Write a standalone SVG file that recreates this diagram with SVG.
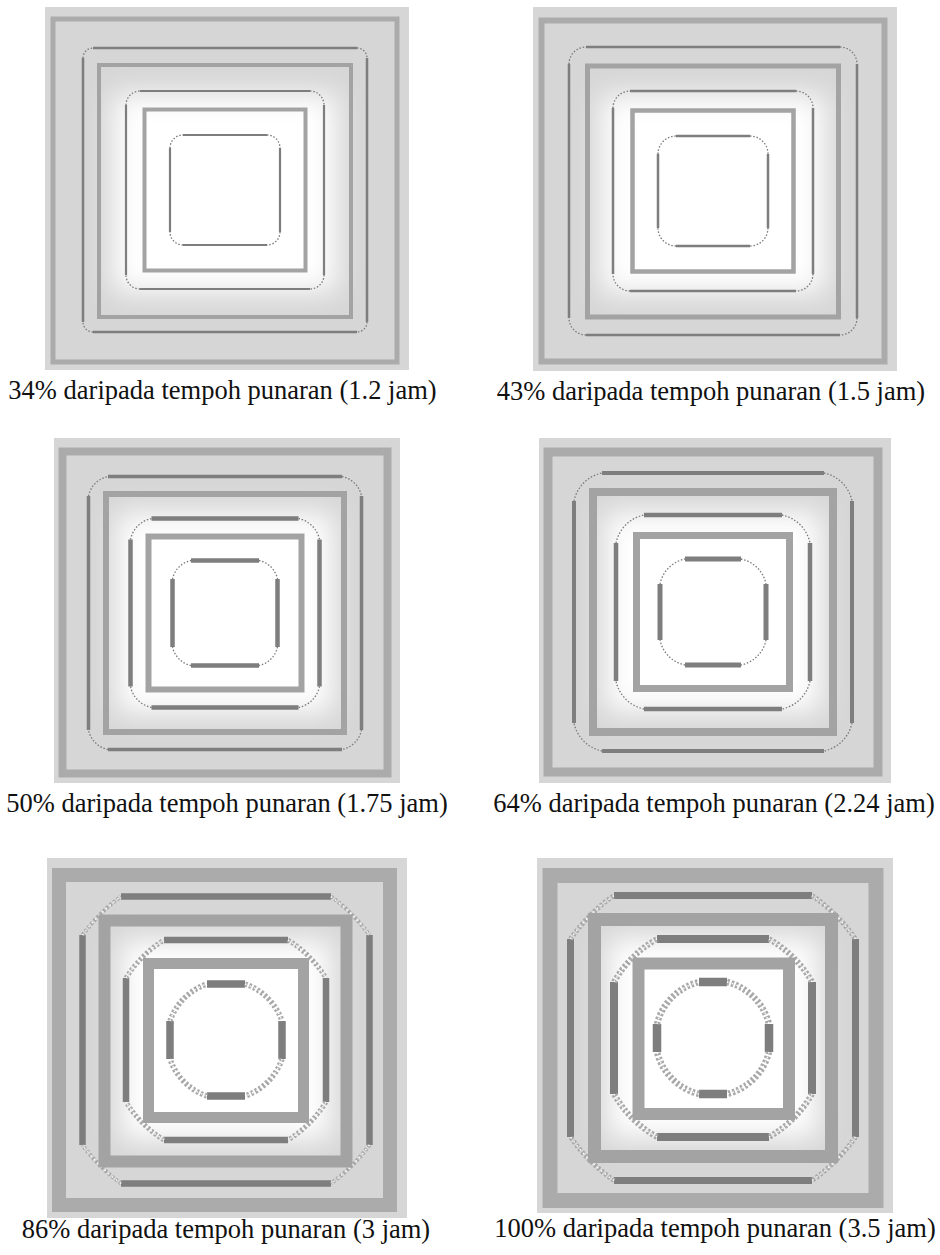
<svg xmlns="http://www.w3.org/2000/svg" width="940" height="1255" viewBox="0 0 940 1255">
<defs>
<filter id="soft" x="-40%" y="-40%" width="180%" height="180%"><feGaussianBlur stdDeviation="14"/></filter>
<style>
.bg{fill:#d6d6d6}
.glow{fill:#ffffff;filter:url(#soft)}
.frame{fill:none;stroke:#ababab}
.sq{fill:none;stroke:#a3a3a3}
.bar{fill:none;stroke:#7e7e7e;stroke-linecap:butt}
.cor{fill:none;stroke:#7a7a7a;stroke-width:1.3;stroke-dasharray:1.5 1.8}
.band{fill:none;stroke:#a9a9a9;stroke-dasharray:2.5 2}
.fleck{fill:none;stroke:#ffffff;stroke-width:1.4;stroke-dasharray:1.5 3.5}
.cap{font-family:"Liberation Serif","Times New Roman",serif;font-size:26.5px;fill:#111111;text-anchor:middle}
</style>
</defs>
<rect width="940" height="1255" fill="#ffffff"/>

<g id="panel-1" transform="translate(225,190)">
<rect class="bg" x="-180" y="-183" width="364" height="363"/>
<rect class="glow" x="-112" y="-96" width="224" height="198"/>
<rect class="frame" x="-172" y="-171" width="344" height="343" stroke-width="5"/>
<path class="bar" stroke-width="2.5" d="M-132,-142H132M142,-132V132M132,142H-132M-142,132V-132"/>
<path class="cor" d="M132,-142A10 10 0 0 1 142,-132M142,132A10 10 0 0 1 132,142M-132,142A10 10 0 0 1 -142,132M-142,-132A10 10 0 0 1 -132,-142"/>
<rect class="sq" x="-126" y="-125" width="252" height="252" stroke-width="4"/>
<path class="bar" stroke-width="2.2" d="M-85,-99H85M99,-85V85M85,99H-85M-99,85V-85"/>
<path class="cor" d="M85,-99A14 14 0 0 1 99,-85M99,85A14 14 0 0 1 85,99M-85,99A14 14 0 0 1 -99,85M-99,-85A14 14 0 0 1 -85,-99"/>
<rect class="sq" x="-80.5" y="-80.5" width="161" height="161" stroke-width="4"/>
<path class="bar" stroke-width="2.2" d="M-42,-55H42M55,-42V42M42,55H-42M-55,42V-42"/>
<path class="cor" d="M42,-55A13 13 0 0 1 55,-42M55,42A13 13 0 0 1 42,55M-42,55A13 13 0 0 1 -55,42M-55,-42A13 13 0 0 1 -42,-55"/>
<text class="cap" x="-2.5" y="209">34% daripada tempoh punaran (1.2 jam)</text>
</g>

<g id="panel-2" transform="translate(713,191)">
<rect class="bg" x="-180" y="-184" width="364" height="364"/>
<rect class="glow" x="-112" y="-96" width="224" height="198"/>
<rect class="frame" x="-171.5" y="-170.5" width="343" height="341" stroke-width="6"/>
<path class="bar" stroke-width="2.5" d="M-127,-144H127M144,-127V127M127,144H-127M-144,127V-127"/>
<path class="cor" d="M127,-144A17 17 0 0 1 144,-127M144,127A17 17 0 0 1 127,144M-127,144A17 17 0 0 1 -144,127M-144,-127A17 17 0 0 1 -127,-144"/>
<rect class="sq" x="-125.5" y="-125" width="251" height="251" stroke-width="5"/>
<path class="bar" stroke-width="2.5" d="M-83,-100H83M100,-83V83M83,100H-83M-100,83V-83"/>
<path class="cor" d="M83,-100A17 17 0 0 1 100,-83M100,83A17 17 0 0 1 83,100M-83,100A17 17 0 0 1 -100,83M-100,-83A17 17 0 0 1 -83,-100"/>
<rect class="sq" x="-80.5" y="-80.5" width="161" height="161" stroke-width="4.5"/>
<path class="bar" stroke-width="2.5" d="M-37,-55H37M55,-37V37M37,55H-37M-55,37V-37"/>
<path class="cor" d="M37,-55A18 18 0 0 1 55,-37M55,37A18 18 0 0 1 37,55M-37,55A18 18 0 0 1 -55,37M-55,-37A18 18 0 0 1 -37,-55"/>
<text class="cap" x="-2" y="209">43% daripada tempoh punaran (1.5 jam)</text>
</g>

<g id="panel-3" transform="translate(225,613)">
<rect class="bg" x="-171" y="-175" width="346" height="345"/>
<rect class="glow" x="-108" y="-100" width="216" height="200"/>
<rect class="frame" x="-162.5" y="-161.5" width="325" height="322" stroke-width="8"/>
<path class="bar" stroke-width="3.5" d="M-117,-136.5H117M136.5,-117V117M117,136.5H-117M-136.5,117V-117"/>
<path class="cor" stroke-width="1.5" d="M117,-136.5A25 25 0 0 1 136.5,-117M136.5,117A25 25 0 0 1 117,136.5M-117,136.5A25 25 0 0 1 -136.5,117M-136.5,-117A25 25 0 0 1 -117,-136.5"/>
<rect class="sq" x="-119" y="-119" width="238" height="238" stroke-width="6"/>
<path class="bar" stroke-width="4.5" d="M-73.5,-94.5H73.5M94.5,-73.5V73.5M73.5,94.5H-73.5M-94.5,73.5V-73.5"/>
<path class="cor" stroke-width="1.5" d="M73.5,-94.5A27 27 0 0 1 94.5,-73.5M94.5,73.5A27 27 0 0 1 73.5,94.5M-73.5,94.5A27 27 0 0 1 -94.5,73.5M-94.5,-73.5A27 27 0 0 1 -73.5,-94.5"/>
<rect class="sq" x="-76.5" y="-76.5" width="153" height="153" stroke-width="6"/>
<path class="bar" stroke-width="4.5" d="M-34,-52.5H34M52.5,-34V34M34,52.5H-34M-52.5,34V-34"/>
<path class="cor" stroke-width="1.5" d="M34,-52.5A24 24 0 0 1 52.5,-34M52.5,34A24 24 0 0 1 34,52.5M-34,52.5A24 24 0 0 1 -52.5,34M-52.5,-34A24 24 0 0 1 -34,-52.5"/>
<text class="cap" x="2" y="199">50% daripada tempoh punaran (1.75 jam)</text>
</g>

<g id="panel-4" transform="translate(713,612)">
<rect class="bg" x="-174" y="-174" width="352" height="345"/>
<rect class="glow" x="-108" y="-100" width="216" height="200"/>
<rect class="frame" x="-165" y="-160" width="330" height="320" stroke-width="9"/>
<path class="bar" stroke-width="4" d="M-111,-139H111M139,-111V111M111,139H-111M-139,111V-111"/>
<path class="cor" stroke-width="1.6" d="M111,-139A36 36 0 0 1 139,-111M139,111A36 36 0 0 1 111,139M-111,139A36 36 0 0 1 -139,111M-139,-111A36 36 0 0 1 -111,-139"/>
<rect class="sq" x="-120" y="-120" width="240" height="240" stroke-width="8"/>
<path class="bar" stroke-width="4.5" d="M-69,-97H69M97,-69V69M69,97H-69M-97,69V-69"/>
<path class="cor" stroke-width="1.8" d="M69,-97A36 36 0 0 1 97,-69M97,69A36 36 0 0 1 69,97M-69,97A36 36 0 0 1 -97,69M-97,-69A36 36 0 0 1 -69,-97"/>
<rect class="sq" x="-76.5" y="-76.5" width="153" height="153" stroke-width="7"/>
<path class="bar" stroke-width="5" d="M-28,-53H28M53,-28V28M28,53H-28M-53,28V-28"/>
<path class="cor" stroke-width="1.8" d="M28,-53A32 32 0 0 1 53,-28M53,28A32 32 0 0 1 28,53M-28,53A32 32 0 0 1 -53,28M-53,-28A32 32 0 0 1 -28,-53"/>
<text class="cap" x="1" y="200">64% daripada tempoh punaran (2.24 jam)</text>
</g>

<g id="panel-5" transform="translate(226,1040)">
<rect class="bg" x="-179" y="-182" width="360" height="360"/>
<rect class="glow" x="-105" y="-100" width="210" height="200"/>
<rect class="frame" x="-167" y="-165" width="331" height="330" stroke-width="14"/>
<path class="bar" stroke-width="6.5" d="M-105,-143.5H105M143.5,-105V105M105,143.5H-105M-143.5,105V-105"/>
<path class="band" stroke-width="4" d="M105,-143.5A177.8 177.8 0 0 1 143.5,-105M143.5,105A177.8 177.8 0 0 1 105,143.5M-105,143.5A177.8 177.8 0 0 1 -143.5,105M-143.5,-105A177.8 177.8 0 0 1 -105,-143.5"/>
<path class="fleck" d="M105,-143.5A177.8 177.8 0 0 1 143.5,-105M143.5,105A177.8 177.8 0 0 1 105,143.5M-105,143.5A177.8 177.8 0 0 1 -143.5,105M-143.5,-105A177.8 177.8 0 0 1 -105,-143.5"/>
<rect class="sq" x="-121.5" y="-119.5" width="242" height="241" stroke-width="12"/>
<path class="bar" stroke-width="6.5" d="M-62,-100H62M100,-62V62M62,100H-62M-100,62V-62"/>
<path class="band" stroke-width="5" d="M62,-100A117.7 117.7 0 0 1 100,-62M100,62A117.7 117.7 0 0 1 62,100M-62,100A117.7 117.7 0 0 1 -100,62M-100,-62A117.7 117.7 0 0 1 -62,-100"/>
<path class="fleck" d="M62,-100A117.7 117.7 0 0 1 100,-62M100,62A117.7 117.7 0 0 1 62,100M-62,100A117.7 117.7 0 0 1 -100,62M-100,-62A117.7 117.7 0 0 1 -62,-100"/>
<rect class="sq" x="-77.5" y="-76.5" width="155" height="154" stroke-width="11"/>
<path class="bar" stroke-width="7.5" d="M-19,-56H19M56,-19V19M19,56H-19M-56,19V-19"/>
<path class="band" stroke-width="5.5" d="M19,-56A59.1 59.1 0 0 1 56,-19M56,19A59.1 59.1 0 0 1 19,56M-19,56A59.1 59.1 0 0 1 -56,19M-56,-19A59.1 59.1 0 0 1 -19,-56"/>
<path class="fleck" d="M19,-56A59.1 59.1 0 0 1 56,-19M56,19A59.1 59.1 0 0 1 19,56M-19,56A59.1 59.1 0 0 1 -56,19M-56,-19A59.1 59.1 0 0 1 -19,-56"/>
<text class="cap" x="0" y="198">86% daripada tempoh punaran (3 jam)</text>
</g>

<g id="panel-6" transform="translate(713,1038)">
<rect class="bg" x="-176" y="-180" width="356" height="355"/>
<rect class="glow" x="-105" y="-100" width="210" height="200"/>
<rect class="frame" x="-163" y="-162.5" width="326" height="325" stroke-width="15"/>
<path class="bar" stroke-width="7" d="M-99,-142.5H99M142.5,-99V99M99,142.5H-99M-142.5,99V-99"/>
<path class="band" stroke-width="5" d="M99,-142.5A173.5 173.5 0 0 1 142.5,-99M142.5,99A173.5 173.5 0 0 1 99,142.5M-99,142.5A173.5 173.5 0 0 1 -142.5,99M-142.5,-99A173.5 173.5 0 0 1 -99,-142.5"/>
<path class="fleck" d="M99,-142.5A173.5 173.5 0 0 1 142.5,-99M142.5,99A173.5 173.5 0 0 1 99,142.5M-99,142.5A173.5 173.5 0 0 1 -142.5,99M-142.5,-99A173.5 173.5 0 0 1 -99,-142.5"/>
<rect class="sq" x="-118.5" y="-118.5" width="237" height="237" stroke-width="13"/>
<path class="bar" stroke-width="8" d="M-56,-99H56M99,-56V56M56,99H-56M-99,56V-56"/>
<path class="band" stroke-width="6" d="M56,-99A113.7 113.7 0 0 1 99,-56M99,56A113.7 113.7 0 0 1 56,99M-56,99A113.7 113.7 0 0 1 -99,56M-99,-56A113.7 113.7 0 0 1 -56,-99"/>
<path class="fleck" d="M56,-99A113.7 113.7 0 0 1 99,-56M99,56A113.7 113.7 0 0 1 56,99M-56,99A113.7 113.7 0 0 1 -99,56M-99,-56A113.7 113.7 0 0 1 -56,-99"/>
<rect class="sq" x="-74.5" y="-74.5" width="150.5" height="150.5" stroke-width="12"/>
<path class="bar" stroke-width="8.5" d="M-14,-56H14M56,-14V14M14,56H-14M-56,14V-14"/>
<path class="band" stroke-width="6.5" d="M14,-56A57.7 57.7 0 0 1 56,-14M56,14A57.7 57.7 0 0 1 14,56M-14,56A57.7 57.7 0 0 1 -56,14M-56,-14A57.7 57.7 0 0 1 -14,-56"/>
<path class="fleck" d="M14,-56A57.7 57.7 0 0 1 56,-14M56,14A57.7 57.7 0 0 1 14,56M-14,56A57.7 57.7 0 0 1 -56,14M-56,-14A57.7 57.7 0 0 1 -14,-56"/>
<text class="cap" x="2" y="199">100% daripada tempoh punaran (3.5 jam)</text>
</g>
</svg>
